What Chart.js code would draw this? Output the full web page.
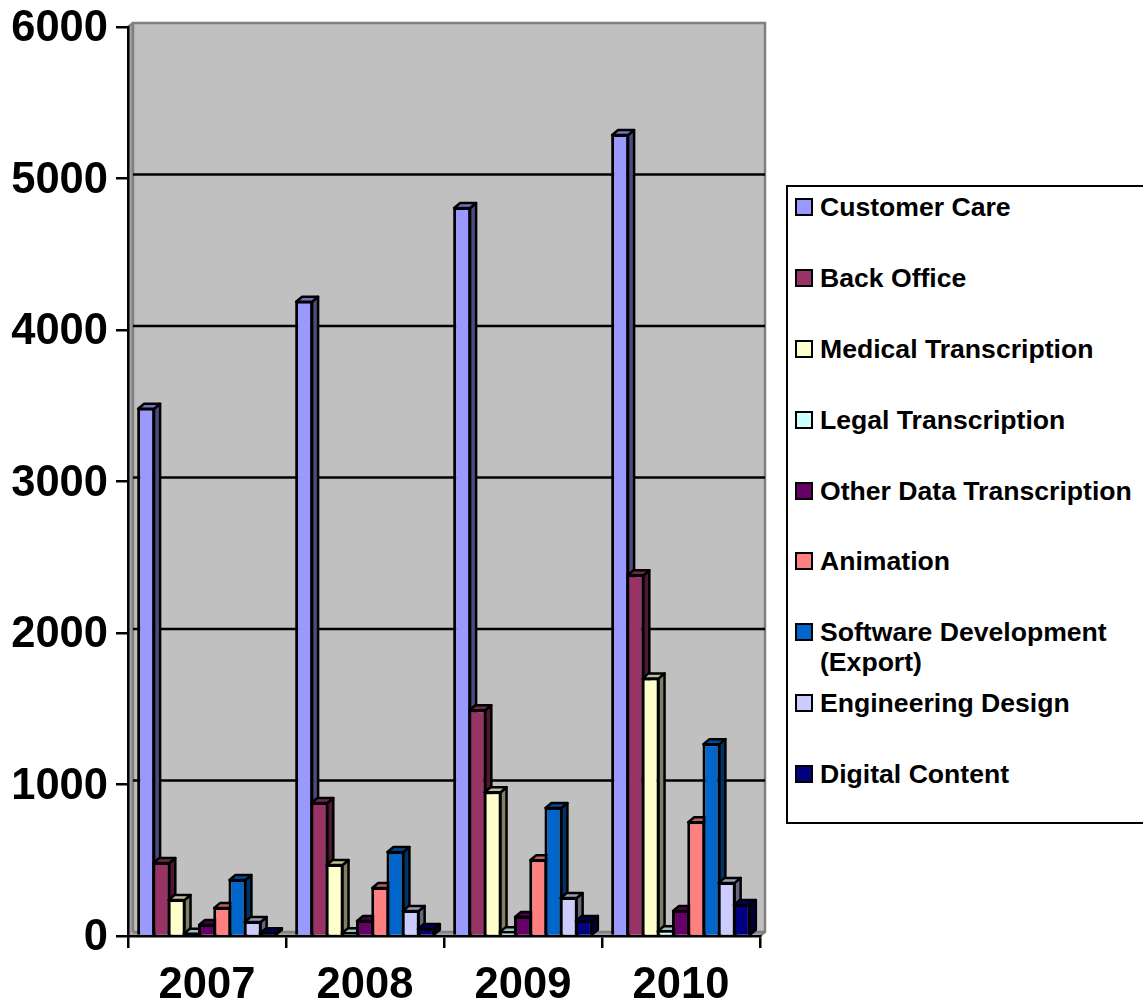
<!DOCTYPE html>
<html>
<head>
	<title>Outsourcing by segment</title>
	<script src="https://cdn.jsdelivr.net/npm/chart.js"></script>
	<style>
		html, body { margin: 0; padding: 0; background: #fff; }
		#wrap { position: relative; width: 1143px; height: 1005px; overflow: hidden; }
		#myChart { position: absolute; left: 0; top: 0; }
		#legend {
			position: absolute; left: 786px; top: 185px; width: 355px; height: 635px;
			border: 2.5px solid #000; background: #fff; box-sizing: content-box;
			font: bold 26.6px "Liberation Sans", Arial, sans-serif; color: #000;
		}
		.row { position: absolute; left: 32px; width: 320px; line-height: 30px; white-space: normal; }
		.box { position: absolute; left: -25px; top: 6px; width: 18px; height: 18px; box-sizing: border-box; border: 2px solid #000; }
	</style>
</head>
<body>
	<div id="wrap">
		<canvas id="myChart" width="1143" height="1005"></canvas>
		<div id="legend"></div>
	</div>

	<script>
		const years = ['2007', '2008', '2009', '2010'];
		const yTicks = [0, 1000, 2000, 3000, 4000, 5000, 6000];

		const names = ['Customer Care', 'Back Office', 'Medical Transcription', 'Legal Transcription',
			'Other Data Transcription', 'Animation', 'Software Development (Export)', 'Engineering Design', 'Digital Content'];
		const colors = ['#9999FF', '#993366', '#FFFFCC', '#CCFFFF', '#660066', '#FF8080', '#0066CC', '#CCCCFF', '#000080'];

		const customerCare = [3487, 4193, 4812, 5294];
		const backOffice = [488, 884, 1497, 2387];
		const medical = [244, 475, 956, 1707];
		const legal = [22, 24, 32, 38];
		const otherData = [79, 106, 132, 172];
		const animation = [192, 323, 507, 757];
		const software = [376, 561, 851, 1273];
		const engineering = [99, 172, 257, 357];
		const digital = [24, 53, 106, 211];
		const series = [customerCare, backOffice, medical, legal, otherData, animation, software, engineering, digital];

		const FONT = '"Liberation Sans", Arial, sans-serif';
		const depthX = 6, depthY = 5;

		function shade(hex, f) {
			const n = parseInt(hex.slice(1), 16);
			return `rgb(${(n >> 16 & 255) * f | 0},${(n >> 8 & 255) * f | 0},${(n & 255) * f | 0})`;
		}

		function poly(ctx, pts, fill) {
			ctx.beginPath();
			pts.forEach((p, i) => i ? ctx.lineTo(p[0], p[1]) : ctx.moveTo(p[0], p[1]));
			ctx.closePath();
			ctx.fillStyle = fill;
			ctx.fill();
			ctx.stroke();
		}

		// back wall, side wall, floor and the gridlines on the wall
		const wallPlugin = {
			id: 'wall',
			beforeDraw(chart) {
				const { ctx, chartArea: a, scales } = chart;
				const dx = 5, dy = 4;
				ctx.save();
				ctx.fillStyle = '#C0C0C0';
				ctx.fillRect(a.left + dx, a.top - dy, a.right - a.left, a.bottom - a.top);
				ctx.fillStyle = '#A0A0A0';
				ctx.beginPath();
				ctx.moveTo(a.left, a.top); ctx.lineTo(a.left + dx, a.top - dy);
				ctx.lineTo(a.left + dx, a.bottom - dy); ctx.lineTo(a.left, a.bottom);
				ctx.closePath(); ctx.fill();
				ctx.beginPath();
				ctx.moveTo(a.left, a.bottom); ctx.lineTo(a.left + dx, a.bottom - dy);
				ctx.lineTo(a.right + dx, a.bottom - dy); ctx.lineTo(a.right, a.bottom);
				ctx.closePath(); ctx.fill();
				ctx.strokeStyle = '#808080';
				ctx.lineWidth = 2.5;
				ctx.beginPath();
				ctx.moveTo(a.left + dx, a.bottom - dy); ctx.lineTo(a.left + dx, a.top - dy);
				ctx.lineTo(a.right + dx, a.top - dy); ctx.lineTo(a.right + dx, a.bottom - dy);
				ctx.lineTo(a.right, a.bottom);
				ctx.moveTo(a.left, a.top); ctx.lineTo(a.left + dx, a.top - dy);
				ctx.moveTo(a.left + dx, a.bottom - dy); ctx.lineTo(a.right + dx, a.bottom - dy);
				ctx.stroke();
				ctx.strokeStyle = '#000';
				ctx.beginPath();
				yTicks.slice(1, -1).forEach(v => {
					const y = scales.y.getPixelForValue(v) - dy;
					ctx.moveTo(a.left + dx, y);
					ctx.lineTo(a.right + dx, y);
				});
				ctx.stroke();
				ctx.restore();
			}
		};

		// draws series left to right so each bar's front covers the side face of the one before it
		const depthPlugin = {
			id: 'depth',
			beforeDatasetsDraw(chart) {
				const { ctx } = chart;
				names.forEach((name, i) => {
					const meta = chart.getDatasetMeta(i);
					meta.controller.draw();
					ctx.save();
					ctx.strokeStyle = '#000';
					ctx.lineWidth = 2.5;
					ctx.lineJoin = 'round';
					meta.data.forEach(bar => {
						const l = bar.x - bar.width / 2 + 1, r = bar.x + bar.width / 2 - 1;
						const t = bar.y + 1, b = bar.base;
						poly(ctx, [[r, t], [r + depthX, t - depthY], [r + depthX, b - depthY], [r, b]], shade(colors[i], 0.5));
						poly(ctx, [[l, t], [l + depthX, t - depthY], [r + depthX, t - depthY], [r, t]], shade(colors[i], 0.75));
					});
					ctx.restore();
				});
				return false;
			}
		};

		const ctx = document.getElementById('myChart').getContext('2d');
		const chart = new Chart(ctx, {
			type: 'bar',
			data: {
				labels: years,
				datasets: names.map((name, i) => ({
					label: name,
					data: series[i],
					backgroundColor: colors[i],
					borderColor: '#000',
					borderWidth: 3
				}))
			},
			options: {
				responsive: false,
				animation: false,
				categoryPercentage: 0.867,
				barPercentage: 1.18,
				layout: { padding: { top: 27, right: 383 } },
				plugins: { legend: { display: false }, tooltip: { enabled: false } },
				scales: {
					x: {
						z: 1,
						afterFit: s => { s.height = 69; s.paddingLeft = 0; s.paddingRight = 0; },
						grid: { drawOnChartArea: false, offset: true, color: '#000', lineWidth: 2.5, tickLength: 12 },
						border: { color: '#000', width: 2.5 },
						ticks: { color: '#000', font: { family: FONT, size: 43.5, weight: 'bold' }, padding: 12, maxRotation: 0 }
					},
					y: {
						min: 0,
						max: 6000,
						afterFit: s => { s.width = 128; s.paddingTop = 0; s.paddingBottom = 0; },
						afterBuildTicks: s => { s.ticks = yTicks.map(v => ({ value: v })); },
						grid: { drawOnChartArea: false, color: '#000', lineWidth: 2.5, tickLength: 12 },
						border: { color: '#000', width: 2.5 },
						ticks: { color: '#000', font: { family: FONT, size: 43.5, weight: 'bold' }, padding: 8, labelOffset: 2, callback: v => String(v) }
					}
				}
			},
			plugins: [wallPlugin, depthPlugin]
		});

		const legend = document.getElementById('legend');
		names.forEach((name, i) => {
			const row = document.createElement('div');
			row.className = 'row';
			row.style.top = (5.2 + i * 70.85) + 'px';
			const box = document.createElement('span');
			box.className = 'box';
			box.style.background = colors[i];
			row.appendChild(box);
			row.appendChild(document.createTextNode(name));
			legend.appendChild(row);
		});
	</script>
</body>
</html>
